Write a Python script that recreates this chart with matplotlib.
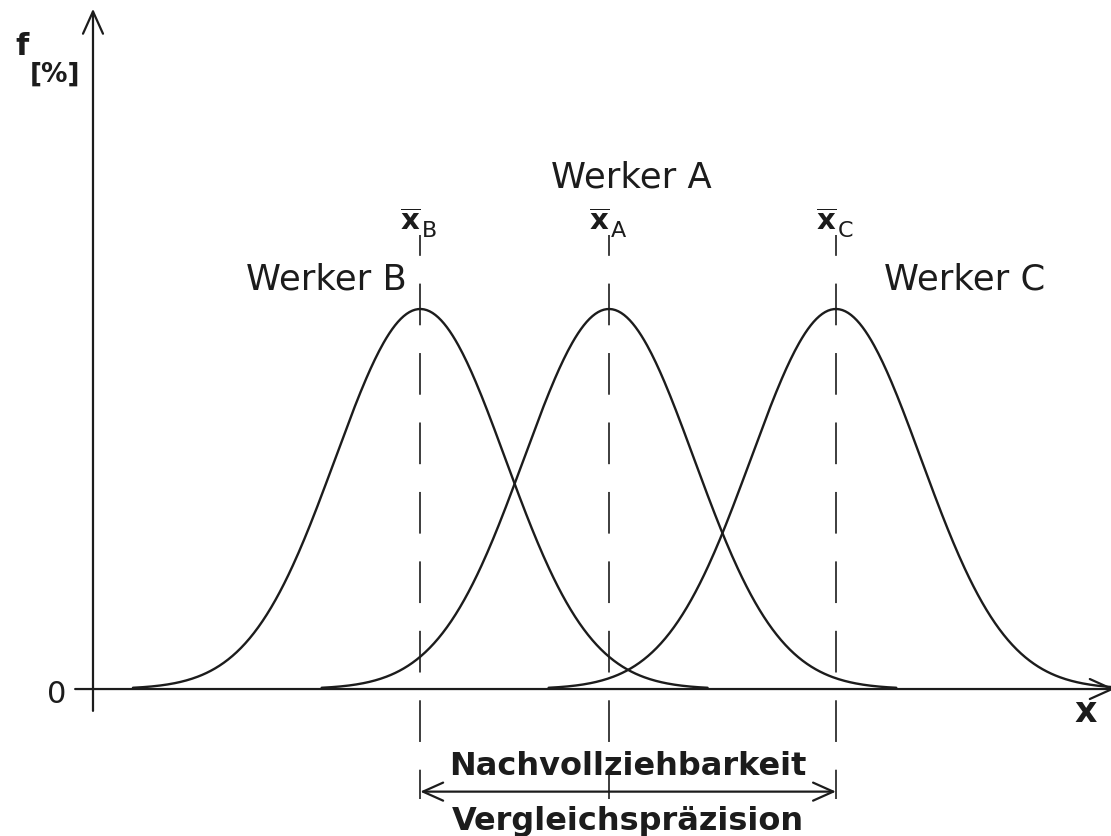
import numpy as np
import matplotlib
matplotlib.use("Agg")
import matplotlib.pyplot as plt

plt.rcParams['font.family'] = ['DejaVu Sans']
plt.rcParams['mathtext.fontset'] = 'dejavusans'
plt.rcParams['lines.scale_dashes'] = False

# Three workers measuring the same characteristic: normal distributions
workers = ['A', 'B', 'C']
means = [6.07, 3.85, 8.74]        # mean value of each worker (x units = sigma)
sigmas = [1.0, 1.0, 1.0]
peak_f = 40.0                     # peak frequency f [%]
tail = 3.38                       # curves drawn to +/- tail * sigma

INK = '#1c1c1c'

fig = plt.figure(figsize=(11.11, 8.37), dpi=100)
ax = fig.add_axes([0, 0, 1, 1])
ax.set_xlim(-1.094, 11.976)
ax.set_ylim(-15.47, 72.63)
ax.axis('off')

arrow_kw = dict(lw=1.6, color=INK, shrinkA=0, shrinkB=0, mutation_scale=10)

# axes with arrow heads
ax.annotate('', xy=(0, 71.6), xytext=(0, -2.3), annotation_clip=False,
            arrowprops=dict(arrowstyle='->,head_length=1.6,head_width=0.72',
                            **arrow_kw))
ax.annotate('', xy=(12.02, 0), xytext=(-0.21, 0), annotation_clip=False,
            arrowprops=dict(arrowstyle='->,head_length=1.6,head_width=0.72',
                            **arrow_kw))

# distribution curves
for m, s in zip(means, sigmas):
    x = np.linspace(m - tail * s, m + tail * s, 400)
    f = peak_f * np.exp(-0.5 * ((x - m) / s) ** 2)
    ax.plot(x, f, color=INK, lw=1.7, solid_capstyle='round')

# dashed mean lines
for m in means:
    ax.plot([m, m], [47.8, -11.6], color=INK, lw=1.2,
            linestyle=(15, (30, 20)))

# mean labels: bold x with bar, subscript worker letter
for w, m in zip(workers, means):
    ax.text(m - 0.235, 48.4, r'$\overline{\mathbf{x}}$',
            fontsize=21, ha='left', va='baseline', color=INK)
    ax.text(m + 0.02, 47.7, w, fontsize=16, ha='left', va='baseline',
            color=INK)

# worker labels
ax.text(6.33, 53.9, 'Werker A', fontsize=25.5, ha='center', va='center', color=INK)
ax.text(2.75, 43.2, 'Werker B', fontsize=25.5, ha='center', va='center', color=INK)
ax.text(10.25, 43.2, 'Werker C', fontsize=25.5, ha='center', va='center', color=INK)

# axis labels
ax.text(-0.424, -0.42, '0', fontsize=22, ha='center', va='center', color=INK)
ax.text(11.68, -2.3, 'x', fontsize=25, fontweight='bold', ha='center',
        va='center', color=INK)
ax.text(-0.918, 66.8, 'f', fontsize=22, fontweight='bold', ha='left',
        va='baseline', color=INK)
ax.text(-0.741, 64.0, '[%]', fontsize=19, fontweight='bold', ha='left',
        va='baseline', color=INK)

# precision span between the extreme means
y_arr = -10.8
ax.annotate('', xy=(means[2], y_arr), xytext=(means[1], y_arr),
            annotation_clip=False,
            arrowprops=dict(arrowstyle='<->,head_length=1.45,head_width=0.65',
                            **arrow_kw))
mid = 0.5 * (means[1] + means[2])
ax.text(mid, -8.9, 'Nachvollziehbarkeit', fontsize=23, fontweight='bold',
        ha='center', va='baseline', color=INK)
ax.text(mid, -14.7, 'Vergleichspräzision', fontsize=23, fontweight='bold',
        ha='center', va='baseline', color=INK)

fig.savefig('out.png', dpi=100, facecolor='white')
